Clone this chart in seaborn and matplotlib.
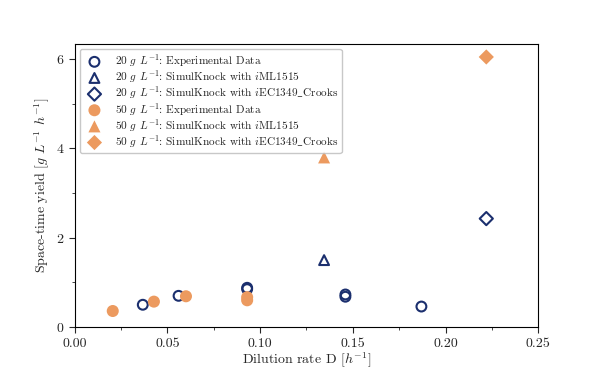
import matplotlib
matplotlib.use('Agg')
import matplotlib.pyplot as plt
import seaborn as sns
from matplotlib.ticker import MultipleLocator, FormatStrFormatter

# 20 g/L data
exp20_x = [0.0367, 0.056, 0.093, 0.093, 0.146, 0.146, 0.187]
exp20_y = [0.50, 0.70, 0.85, 0.88, 0.68, 0.73, 0.46]
ml20_x = [0.1345]
ml20_y = [1.50]
ec20_x = [0.222]
ec20_y = [2.43]

# 50 g/L data
exp50_x = [0.0205, 0.0427, 0.060, 0.093, 0.093]
exp50_y = [0.36, 0.57, 0.69, 0.67, 0.60]
ml50_x = [0.1345]
ml50_y = [3.80]
ec50_x = [0.222]
ec50_y = [6.05]

navy = '#1b2f6e'
orange = '#ec9a5f'

sns.set_theme(style='ticks')
plt.rcParams['font.family'] = 'serif'
plt.rcParams['font.serif'] = ['cmr10']
plt.rcParams['mathtext.fontset'] = 'cm'
plt.rcParams['axes.formatter.use_mathtext'] = True
plt.rcParams['axes.unicode_minus'] = False

fig, ax = plt.subplots(figsize=(5.98, 3.70), dpi=100)
fig.subplots_adjust(left=0.125, right=0.9, bottom=0.116, top=0.881)

unit = r'$g$ $L^{-1}$'
crooks = r'$i$EC1349$\_$Crooks'
open_kw = dict(facecolor='none', edgecolor=navy, linewidth=1.5)
fill_kw = dict(color=orange, edgecolor='none', linewidth=0)

sns.scatterplot(x=exp20_x, y=exp20_y, marker='o', s=50, ax=ax,
                label=f'20 {unit}: Experimental Data', **open_kw)
sns.scatterplot(x=ml20_x, y=ml20_y, marker='^', s=50, ax=ax,
                label=f'20 {unit}: SimulKnock with $i$ML1515', **open_kw)
sns.scatterplot(x=ec20_x, y=ec20_y, marker='D', s=45, ax=ax,
                label=f'20 {unit}: SimulKnock with {crooks}', **open_kw)
sns.scatterplot(x=exp50_x, y=exp50_y, marker='o', s=75, ax=ax,
                label=f'50 {unit}: Experimental Data', **fill_kw)
sns.scatterplot(x=ml50_x, y=ml50_y, marker='^', s=75, ax=ax,
                label=f'50 {unit}: SimulKnock with $i$ML1515', **fill_kw)
sns.scatterplot(x=ec50_x, y=ec50_y, marker='D', s=60, ax=ax,
                label=f'50 {unit}: SimulKnock with {crooks}', **fill_kw)

ax.set_xlim(0, 0.25)
ax.set_ylim(0, 6.34)
ax.xaxis.set_major_locator(MultipleLocator(0.05))
ax.xaxis.set_minor_locator(MultipleLocator(0.025))
ax.yaxis.set_major_locator(MultipleLocator(2))
ax.yaxis.set_minor_locator(MultipleLocator(1))
ax.xaxis.set_major_formatter(FormatStrFormatter('%.2f'))

ax.set_xlabel(r'Dilution rate D [$h^{-1}$]', fontsize=10, labelpad=1)
ax.set_ylabel(r'Space-time yield [$g$ $L^{-1}$ $h^{-1}$]', fontsize=10, labelpad=3)
ax.tick_params(labelsize=10, direction='out', length=4, width=0.8)
ax.tick_params(which='minor', length=2.5, width=0.6)
for sp in ax.spines.values():
    sp.set_visible(True)
    sp.set_color('black')
    sp.set_linewidth(0.8)

leg = ax.legend(loc='upper left', fontsize=8.1, frameon=True, borderaxespad=0.45,
                borderpad=0.3, handletextpad=0.8, labelspacing=-0.05)
leg.get_frame().set_edgecolor('#bbbbbb')

plt.savefig('out.png', dpi=100)
